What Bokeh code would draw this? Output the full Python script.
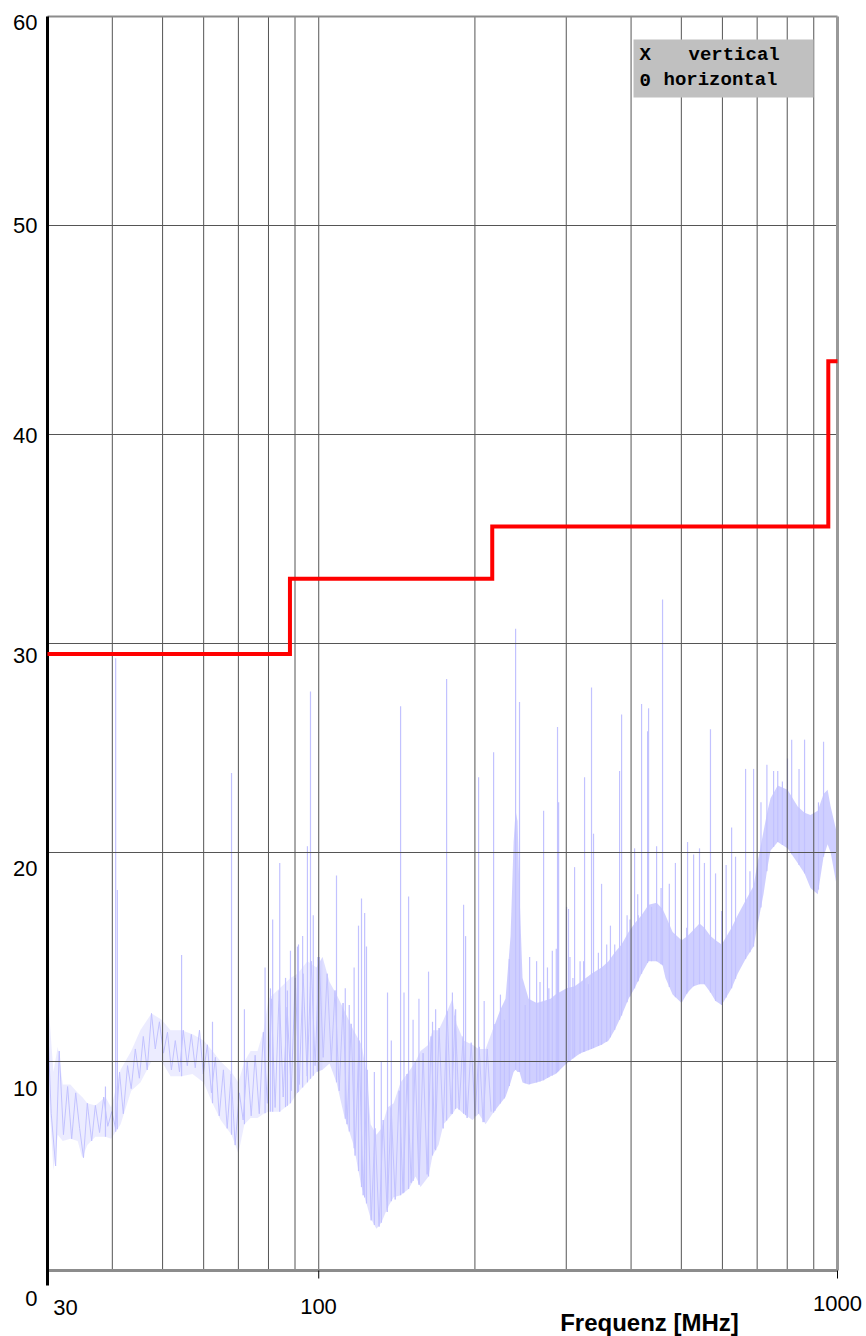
import numpy as np
from bokeh.plotting import figure
from bokeh.core.properties import value
from bokeh.embed import file_html
from bokeh.resources import INLINE

# ---------------- data ----------------
# limit line (step): band edges in MHz and level per band in dB
limit_edges = [30, 88, 216, 960, 1000]
limit_levels = [29.5, 33.1, 35.6, 43.5]

# envelope of the dense noise floor
band_mhz = [30.0, 30.8, 31.4, 32.1, 33.2, 34.3, 35.0, 35.8, 37.1, 38.8,
            39.8, 41.5, 43.5, 45.3, 47.6, 49.8, 51.8, 54.4, 57.1, 60.0,
            62.4, 64.7, 67.9, 70.0, 71.9, 73.9, 76.2, 78.3, 80.0, 84.1,
            88.2, 91.0, 95.1, 99.0, 101.7, 104.9, 108.2, 111.7, 116.7, 120.9,
            123.6, 125.9, 129.2, 132.1, 135.7, 139.4, 143.8, 149.0, 153.7, 157.1,
            162.8, 165.7, 170.2, 174.0, 181.1, 184.4, 190.2, 197.9, 203.3, 209.7,
            216.3, 224.1, 229.1, 234.3, 237.5, 239.6, 241.7, 243.8, 247.1, 253.8,
            263.0, 271.3, 279.8, 286.1, 300.4, 311.3, 319.7, 335.6, 350.9, 362.0,
            371.7, 383.5, 395.6, 406.3, 419.1, 432.3, 448.0, 460.0, 466.0, 481.0,
            500.6, 514.0, 528.0, 542.0, 554.0, 569.0, 582.0, 598.0, 625.0, 642.0,
            665.0, 689.0, 701.0, 720.0, 733.0, 743.0, 767.0, 801.0, 838.0, 864.0,
            887.0, 916.0, 940.0, 957.0, 970.0, 1000.0]
band_lo = [9.5, 4.8, 6.5, 6.2, 6.3, 6.2, 5.4, 6.0, 6.4, 6.4,
           6.3, 7.0, 8.6, 9.0, 10.0, 10.0, 9.3, 9.3, 9.4, 9.0,
           8.0, 7.2, 6.5, 5.6, 7.0, 7.3, 7.3, 7.5, 7.6, 7.6,
           8.0, 8.5, 9.0, 9.5, 9.6, 9.9, 9.0, 7.5, 6.0, 4.0,
           3.2, 2.5, 2.0, 2.3, 3.0, 3.5, 3.6, 3.9, 4.5, 4.0,
           4.5, 5.5, 6.0, 7.0, 7.5, 7.8, 7.5, 7.2, 7.5, 7.0,
           7.5, 8.0, 8.3, 9.0, 9.5, 9.6, 9.5, 9.5, 9.0, 8.9,
           9.0, 9.1, 9.3, 9.4, 9.9, 10.2, 10.4, 10.6, 10.8, 11.0,
           11.5, 12.2, 13.0, 13.5, 14.2, 14.8, 14.8, 14.6, 14.0, 13.2,
           12.8, 13.3, 13.6, 13.7, 13.7, 13.3, 12.9, 12.7, 13.5, 14.2,
           14.9, 15.5, 16.5, 18.0, 19.3, 20.1, 20.5, 20.2, 19.5, 19.0,
           18.3, 18.0, 19.8, 20.4, 20.0, 18.2]
band_hi = [13.4, 9.5, 10.7, 8.9, 8.9, 8.5, 8.3, 8.0, 7.9, 8.3,
           7.8, 9.6, 10.5, 11.5, 12.3, 12.0, 11.5, 11.5, 11.3, 11.0,
           10.5, 10.0, 9.5, 9.0, 10.0, 10.5, 10.5, 11.5, 13.0, 13.5,
           14.0, 14.2, 14.8, 14.5, 15.0, 13.8, 13.2, 12.5, 11.5, 10.8,
           9.5, 7.0, 6.5, 6.8, 7.8, 8.0, 9.0, 9.5, 10.0, 10.5,
           10.8, 11.5, 11.5, 12.0, 13.0, 11.8, 11.0, 10.8, 10.6, 10.6,
           11.5, 12.5, 13.0, 16.0, 20.5, 22.0, 21.5, 18.0, 14.0, 13.0,
           12.8, 12.9, 13.0, 13.2, 13.5, 13.6, 13.8, 14.2, 14.5, 14.8,
           15.2, 15.6, 16.2, 16.6, 17.0, 17.5, 17.6, 17.3, 17.0, 16.2,
           15.8, 16.0, 16.3, 16.6, 16.4, 16.0, 15.8, 15.6, 16.4, 17.0,
           17.7, 18.4, 19.5, 21.0, 22.0, 22.6, 23.2, 23.0, 22.2, 21.9,
           21.8, 22.0, 22.8, 23.0, 22.2, 20.8]

# scribbled trace of the lower band (30 - 215 MHz)
trace_mhz = [30.0, 30.5, 31.1, 31.6, 32.2, 32.8, 33.4, 34.0,
             34.6, 35.2, 35.8, 36.5, 37.1, 37.8, 38.5, 39.2,
             39.9, 40.6, 41.3, 42.0, 42.8, 43.5, 44.3, 45.1,
             45.9, 46.7, 47.6, 48.4, 49.3, 50.2, 51.1, 52.0,
             52.9, 53.9, 54.8, 55.8, 56.8, 57.8, 58.9, 59.9,
             61.0, 62.1, 63.2, 64.3, 65.5, 66.6, 67.8, 69.0,
             70.3, 71.5, 72.8, 74.1, 75.4, 76.8, 78.2, 79.6,
             81.0, 82.4, 83.9, 85.4, 86.9, 88.5, 90.1, 91.7,
             93.3, 95.0, 96.7, 98.4, 100.2, 102.0, 103.8, 105.7,
             107.5, 109.5, 111.4, 113.4, 115.5, 117.5, 119.6, 121.8,
             124.0, 126.2, 128.4, 130.7, 133.1, 135.5, 137.9, 140.4,
             142.9, 145.4, 148.0, 150.7, 153.4, 156.1, 158.9, 161.8,
             164.7, 167.6, 170.6, 173.7, 176.8, 180.0, 183.2, 186.5,
             189.8, 193.2, 196.7, 200.2, 203.8, 207.4, 211.2, 214.9]
trace_db = [12.0, 7.5, 5.0, 10.5, 6.5, 8.8, 6.3, 8.5,
            6.8, 5.4, 8.0, 6.2, 7.9, 6.6, 8.3, 6.9,
            7.6, 6.8, 9.5, 7.5, 9.8, 8.7, 10.6, 9.2,
            11.2, 9.6, 12.3, 10.6, 11.9, 10.4, 11.4, 9.6,
            11.0, 9.5, 11.5, 9.8, 11.3, 9.7, 11.5, 9.4,
            10.8, 8.5, 10.2, 7.4, 9.6, 6.8, 9.4, 6.0,
            8.5, 7.2, 10.0, 7.4, 10.3, 7.5, 11.4, 8.0,
            13.0, 7.8, 13.4, 8.3, 12.6, 8.6, 14.0, 8.9,
            14.2, 9.3, 14.8, 9.8, 15.0, 10.2, 14.2, 10.0,
            13.4, 8.6, 12.8, 7.0, 11.8, 5.5, 11.0, 3.6,
            9.6, 2.4, 6.8, 2.1, 7.2, 2.8, 7.8, 3.4,
            8.6, 3.7, 9.4, 4.2, 10.0, 4.1, 10.4, 4.6,
            11.2, 5.8, 11.6, 6.8, 12.4, 7.5, 12.2, 7.7,
            11.2, 7.3, 10.9, 7.4, 10.7, 7.1, 10.6, 7.6]

# narrow-band peaks (frequency MHz, peak dB)
spike_mhz = [38.8, 40.6, 40.9, 54.4, 62.4, 67.9, 71.9, 81.5, 84.1, 86.3,
             88.2, 91.0, 93.1, 95.1, 96.4, 97.6, 108.2, 114.5, 119.3, 120.9,
             122.6, 123.6, 135.7, 143.8, 146.0, 149.0, 162.8, 165.7, 176.4, 190.2,
             191.9, 203.3, 217.3, 239.6, 243.8, 255.0, 263.0, 271.3, 276.0, 282.0,
             288.6, 290.0, 300.4, 305.0, 311.3, 319.0, 325.4, 335.6, 338.6, 350.9,
             365.0, 380.1, 383.5, 393.0, 406.3, 412.0, 419.1, 430.4, 432.3, 448.0,
             460.0, 487.0, 514.0, 528.0, 542.0, 554.0, 569.0, 582.0, 625.0, 665.0,
             689.0, 712.0, 731.0, 767.0, 801.0, 816.0, 843.0, 864.0, 940.0]
spike_db = [8.8, 29.3, 18.2, 15.1, 11.9, 23.8, 12.5, 16.8, 19.5, 14.0,
            15.3, 15.5, 16.0, 20.3, 27.7, 17.0, 18.9, 12.7, 16.5, 17.8,
            17.1, 15.5, 13.3, 27.0, 13.3, 17.9, 14.3, 11.9, 28.3, 17.5,
            16.0, 23.6, 24.8, 30.7, 27.2, 15.0, 14.8, 22.0, 14.5, 15.3,
            26.0, 22.4, 17.4, 15.0, 19.3, 14.8, 23.6, 27.9, 20.9, 18.5,
            16.5, 23.9, 26.6, 17.0, 20.2, 18.0, 27.1, 25.8, 26.9, 20.3,
            32.1, 19.5, 20.5, 19.9, 20.2, 19.5, 25.9, 19.0, 21.2, 24.0,
            24.0, 22.4, 24.2, 23.9, 24.5, 25.4, 24.0, 25.4, 25.3]

# smaller peaks just above the noise floor
minor_mhz = [78.8, 80.7, 87.0, 91.4, 99.6, 112.5, 117.0, 128.0, 132.0, 138.0,
             152.0, 156.0, 168.0, 181.0, 183.6, 208.4, 218.6, 224.0, 228.0, 233.0,
             250.0, 267.0, 277.7, 287.0, 303.0, 309.0, 324.0, 331.0, 346.0, 359.0,
             372.0, 398.0, 413.0, 438.0, 457.0, 474.0, 512.0, 598.0, 610.0, 636.0,
             678.0, 753.0, 783.0, 919.0]
minor_db = [14.5, 13.5, 13.4, 15.6, 15.0, 13.5, 14.5, 9.5, 10.0, 11.0,
            12.0, 13.0, 12.5, 13.3, 12.5, 12.9, 11.8, 13.2, 12.0, 14.9,
            12.7, 13.8, 13.5, 15.4, 17.3, 14.0, 14.8, 13.7, 15.2, 15.6,
            15.6, 16.8, 17.0, 17.4, 18.3, 18.5, 16.4, 17.2, 19.4, 19.8,
            19.1, 23.9, 23.4, 22.4]

# axes / grid
x_min, x_max = 30, 1000
y_min, y_max = 0, 60
grid_mhz = [40, 50, 60, 70, 80, 90, 100, 200, 300, 400, 500, 600, 700, 800, 900]
grid_db = [10, 20, 30, 40, 50]
x_tick_mhz = [100, 1000]
y_tick_text = ["60", "50", "40", "30", "20", "10", "0"]
x_tick_text = ["30", "100", "1000"]
x_title = "Frequenz [MHz]"
legend_marks = ["X", "0"]
legend_rows = ["vertical", "horizontal"]

assert len(band_mhz) == len(band_lo) == len(band_hi)
assert len(trace_mhz) == len(trace_db)
assert len(spike_mhz) == len(spike_db)
assert len(minor_mhz) == len(minor_db)

# ---------------- layout (pixels of the 866 x 1336 page) ----------------
W, H = 866, 1336
PL, PR, PT, PB = 47, 837, 16, 1270        # plot-area edges in px
ppd = (PR - PL) / np.log10(x_max / x_min)  # px per decade
ppu = (PB - PT) / (y_max - y_min)          # px per dB


def fx(px):  # page x pixel -> frequency
    return x_min * 10 ** ((px - PL) / ppd)


def fy(py):  # page y pixel -> dB
    return y_min + (PB - py) / ppu


p = figure(width=W, height=H, x_axis_type="log",
           x_range=(fx(0), fx(W)), y_range=(fy(H), fy(0)),
           output_backend="svg", toolbar_location=None,
           min_border=0, min_border_left=0, min_border_right=0,
           min_border_top=0, min_border_bottom=0)
p.axis.visible = False
p.grid.visible = False
p.outline_line_color = None
p.background_fill_color = "white"
p.border_fill_color = "white"

NOISE = "#ccccff"
NOISE_LINE = "#c2c2ff"

# ---- noise ----
bf = np.array(band_mhz)
blo = np.array(band_lo)
bhi = np.array(band_hi)
for lo_f, hi_f, a in [(30, 101.7, 0.38), (99.0, 216.3, 0.6), (216.3, 1000, 0.95)]:
    m = (bf >= lo_f) & (bf <= hi_f)
    p.varea(x=bf[m], y1=blo[m], y2=bhi[m], fill_color=NOISE, fill_alpha=a)
p.line(trace_mhz, trace_db, line_color=NOISE_LINE, line_width=1)
spike_base = np.interp(np.log10(spike_mhz), np.log10(bf), blo)
p.segment(x0=spike_mhz, y0=spike_base, x1=spike_mhz, y1=spike_db,
          line_color=NOISE_LINE, line_width=1.2)
minor_base = np.interp(np.log10(minor_mhz), np.log10(bf), blo)
p.segment(x0=minor_mhz, y0=minor_base, x1=minor_mhz, y1=minor_db,
          line_color=NOISE_LINE, line_width=1.2)

# ---- grid ----
GRID = "#555555"
p.segment(x0=grid_mhz, y0=[y_min] * len(grid_mhz), x1=grid_mhz, y1=[y_max] * len(grid_mhz),
          line_color=GRID, line_width=1)
p.segment(x0=[x_min] * len(grid_db), y0=grid_db, x1=[x_max] * len(grid_db), y1=grid_db,
          line_color=GRID, line_width=1)

# ---- frame ----
p.segment(x0=[x_min], y0=[y_max], x1=[x_max], y1=[y_max], line_color="#8c8c8c", line_width=2)
p.segment(x0=[x_max], y0=[y_min], x1=[x_max], y1=[y_max], line_color="#999999", line_width=3)
p.segment(x0=[x_min], y0=[y_min], x1=[x_max], y1=[y_min], line_color="#8c8c8c", line_width=3)
p.segment(x0=x_tick_mhz, y0=[y_min] * 2, x1=x_tick_mhz, y1=[fy(PB + 8)] * 2,
          line_color="black", line_width=1)
p.segment(x0=[x_min], y0=[y_max], x1=[x_min], y1=[fy(PB + 15)],
          line_color="black", line_width=3)

# ---- limit line ----
lx, ly = [], []
for i, lev in enumerate(limit_levels):
    lx += [limit_edges[i], limit_edges[i + 1]]
    ly += [lev, lev]
p.line(lx, ly, line_color="#ff0000", line_width=4, line_join="miter")

# ---- legend box ----
p.quad(left=fx(633), right=fx(813), bottom=fy(97), top=fy(39),
       fill_color="#c0c0c0", line_color=None)
MONO = value("Liberation Mono")
p.text(x=[fx(639)] * 2, y=[fy(54), fy(79)], text=legend_marks,
       text_font=MONO, text_font_style="bold", text_font_size="19px",
       text_baseline="middle", text_color="black")
p.text(x=[fx(688), fx(663)], y=[fy(54), fy(79)], text=legend_rows,
       text_font=MONO, text_font_style="bold", text_font_size="19px",
       text_baseline="middle", text_color="black")

# ---- tick labels & title ----
SANS = value("Liberation Sans")
y_label_px = [22, 225, 435, 655, 868, 1088, 1298]
p.text(x=[fx(37)] * len(y_tick_text), y=[fy(v) for v in y_label_px], text=y_tick_text,
       text_font=SANS, text_font_size="22px", text_align="right",
       text_baseline="middle", text_color="black")
x_label_px = [(65, 1307), (318, 1306), (837, 1303)]
p.text(x=[fx(a) for a, _ in x_label_px], y=[fy(b) for _, b in x_label_px], text=x_tick_text,
       text_font=SANS, text_font_size="22px", text_align="center",
       text_baseline="middle", text_color="black")
p.text(x=[fx(649)], y=[fy(1322)], text=[x_title],
       text_font=SANS, text_font_style="bold", text_font_size="24px",
       text_align="center", text_baseline="middle", text_color="black")

open("out.html", "w").write(file_html(p, INLINE))
